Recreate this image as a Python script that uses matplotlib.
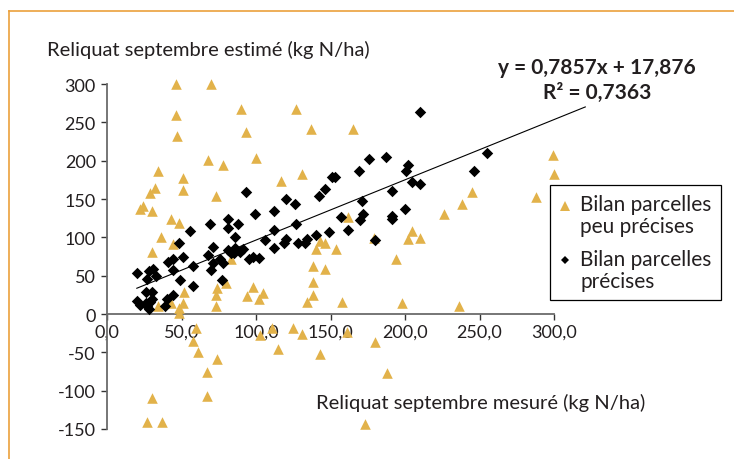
import matplotlib
matplotlib.use("Agg")
import matplotlib.pyplot as plt
from matplotlib.lines import Line2D
from matplotlib.legend_handler import HandlerLine2D

plt.rcParams['font.family'] = ['Lato', 'DejaVu Sans']

# ---- data ----
peu_x = [46, 70, 46, 90, 127, 47, 93, 137, 165, 68, 78, 100, 34, 51, 117, 131, 32, 51, 29, 73,
         299, 300, 245, 288, 238, 226, 205, 202, 210, 179, 194, 198, 236, 24, 22, 30, 43, 48, 36, 44,
         30, 162, 83, 52, 34, 43, 48, 51, 48, 74, 73, 73, 80, 98, 105, 94, 102, 140, 143, 146,
         154, 138, 146, 138, 138, 134, 158, 60, 58, 61, 74, 67, 67, 30, 27, 37, 103, 111, 125, 131,
         115, 143, 161, 180, 188, 173]
peu_y = [300, 300, 259, 267, 267, 232, 238, 241, 241, 201, 194, 204, 187, 178, 173, 182, 165, 162, 158, 154,
         208, 182, 159, 152, 143, 131, 108, 98, 99, 99, 72, 15, 10, 141, 137, 135, 124, 119, 101, 91,
         81, 127, 72, 29, 10, 14, 8, 15, 1, 34, 25, 10, 40, 35, 28, 23, 20, 85, 95, 92,
         85, 62, 59, 42, 25, 16, 16, -18, -35, -50, -59, -76, -107, -110, -141, -141, -28, -18, -18, -26,
         -46, -52, -23, -37, -77, -144]

prec_x = [93, 151, 153, 146, 142, 169, 120, 210, 255, 246, 176, 187, 202, 201, 205, 210, 191, 171, 172, 170,
          191, 191, 200, 162, 180, 126, 99, 112, 81, 88, 81, 86, 112, 127, 157, 149, 140, 134, 133, 128,
          120, 119, 106, 112, 91, 86, 81, 83, 95, 102, 98, 89, 85, 76, 69, 71, 68, 71, 70, 77,
          56, 48, 44, 41, 44, 51, 49, 58, 58, 20, 27, 28, 31, 33, 26, 30, 44, 20, 22, 27,
          30, 29, 26, 28, 40, 39, 78]
prec_y = [159, 179, 179, 163, 154, 187, 150, 263, 210, 187, 202, 205, 194, 187, 172, 169, 160, 147, 130, 122,
          128, 124, 137, 110, 96, 144, 131, 135, 124, 118, 112, 101, 109, 118, 127, 107, 103, 98, 93, 93,
          98, 93, 96, 86, 85, 86, 83, 79, 72, 73, 75, 81, 79, 72, 118, 88, 77, 66, 57, 44,
          108, 92, 72, 68, 57, 75, 44, 62, 36, 54, 46, 56, 59, 50, 29, 29, 25, 17, 12, 10,
          20, 16, 14, 7, 19, 11, 67]

slope, intercept = 0.7857, 17.876
trend_x = [20, 321]

x_ticks = [0, 50, 100, 150, 200, 250, 300]
x_tick_labels = ["0,0", "50,0", "100,0", "150,0", "200,0", "250,0", "300,0"]
y_ticks = [-150, -100, -50, 0, 50, 100, 150, 200, 250, 300]
y_tick_labels = ["-150", "-100", "-50", "0", "50", "100", "150", "200", "250", "300"]

label_peu = "Bilan parcelles\npeu précises"
label_prec = "Bilan parcelles\nprécises"
x_title = "Reliquat septembre mesuré (kg N/ha)"
y_title = "Reliquat septembre estimé (kg N/ha)"
eq_text = "y = 0,7857x + 17,876"
r2_text = "R² = 0,7363"

# ---- figure ----
W, H = 734, 460
fig = plt.figure(figsize=(W / 100, H / 100), dpi=100)
txt_col = "#231f20"
gold = "#E2B24A"
orange = "#EBA13C"

def fx(px):
    return px / W

def fy(py):
    return 1 - py / H

# orange frame (top and left)
fig.add_artist(Line2D([fx(9), 1.0], [fy(12), fy(12)], color=orange, lw=1.2, transform=fig.transFigure))
fig.add_artist(Line2D([fx(9), fx(9)], [fy(12), 0.0], color=orange, lw=1.2, transform=fig.transFigure))

ax = fig.add_axes([fx(107), fy(430), (554 - 107) / W, (430 - 85) / H])
ax.set_xlim(0, 300)
ax.set_ylim(-150, 300)

ax.scatter(peu_x, peu_y, marker="^", s=58, color=gold, linewidths=0, zorder=3, clip_on=False)
ax.scatter(prec_x, prec_y, marker="D", s=34, color="black", linewidths=0, zorder=4, clip_on=False)

trend_y = [slope * v + intercept for v in trend_x]
ax.plot(trend_x, trend_y, color="black", lw=0.8, zorder=5, clip_on=False)

for s in ["top", "right"]:
    ax.spines[s].set_visible(False)
ax.spines["bottom"].set_position(("data", 0))
ax.spines["left"].set_color("#6b6b6b")
ax.spines["bottom"].set_color("#6b6b6b")
ax.spines["left"].set_linewidth(1.3)
ax.spines["bottom"].set_linewidth(1.3)

ax.set_xticks(x_ticks)
ax.set_xticklabels(x_tick_labels)
ax.set_yticks(y_ticks)
ax.set_yticklabels(y_tick_labels)
ax.tick_params(axis="both", direction="out", length=4, width=1.0, color="#333333",
               labelsize=13, labelcolor=txt_col)
ax.tick_params(axis="x", pad=3)
ax.tick_params(axis="y", pad=4)
ax.patch.set_alpha(0)

fig.text(fx(47), fy(50), y_title, ha="left", va="center", fontsize=14.5, color=txt_col)
fig.text(fx(316), fy(403), x_title, ha="left", va="center", fontsize=14.5, color=txt_col)
fig.text(fx(597), fy(68), eq_text, ha="center", va="center", fontsize=15, fontweight="bold", color=txt_col)
fig.text(fx(597), fy(93), r2_text, ha="center", va="center", fontsize=15, fontweight="bold", color=txt_col)


class FirstLineHandler(HandlerLine2D):
    """Place the legend marker beside the first text line."""
    def create_artists(self, legend, orig_handle, xdescent, ydescent, width, height, fontsize, trans):
        arts = super().create_artists(legend, orig_handle, xdescent, ydescent, width, height,
                                      fontsize, trans)
        for a in arts:
            xd, yd = a.get_data()
            a.set_data(xd, [v + 0.5 * fontsize for v in yd])
        return arts


handles = [
    Line2D([], [], marker="^", linestyle="none", color=gold, markersize=7, markeredgewidth=0),
    Line2D([], [], marker="D", linestyle="none", color="black", markersize=4.5, markeredgewidth=0),
]
leg = fig.legend(handles, [label_peu, label_prec], loc="upper left",
                 bbox_to_anchor=(fx(550), fy(186)), bbox_transform=fig.transFigure,
                 frameon=True, fancybox=False, edgecolor="black", framealpha=1,
                 fontsize=15, handlelength=0.5, handletextpad=0.5, borderpad=0.45,
                 labelspacing=0.6, borderaxespad=0,
                 handler_map={Line2D: FirstLineHandler()})
leg.get_frame().set_linewidth(0.9)
for t in leg.get_texts():
    t.set_color(txt_col)
    t.set_linespacing(1.12)

fig.savefig("out.png", dpi=100)
